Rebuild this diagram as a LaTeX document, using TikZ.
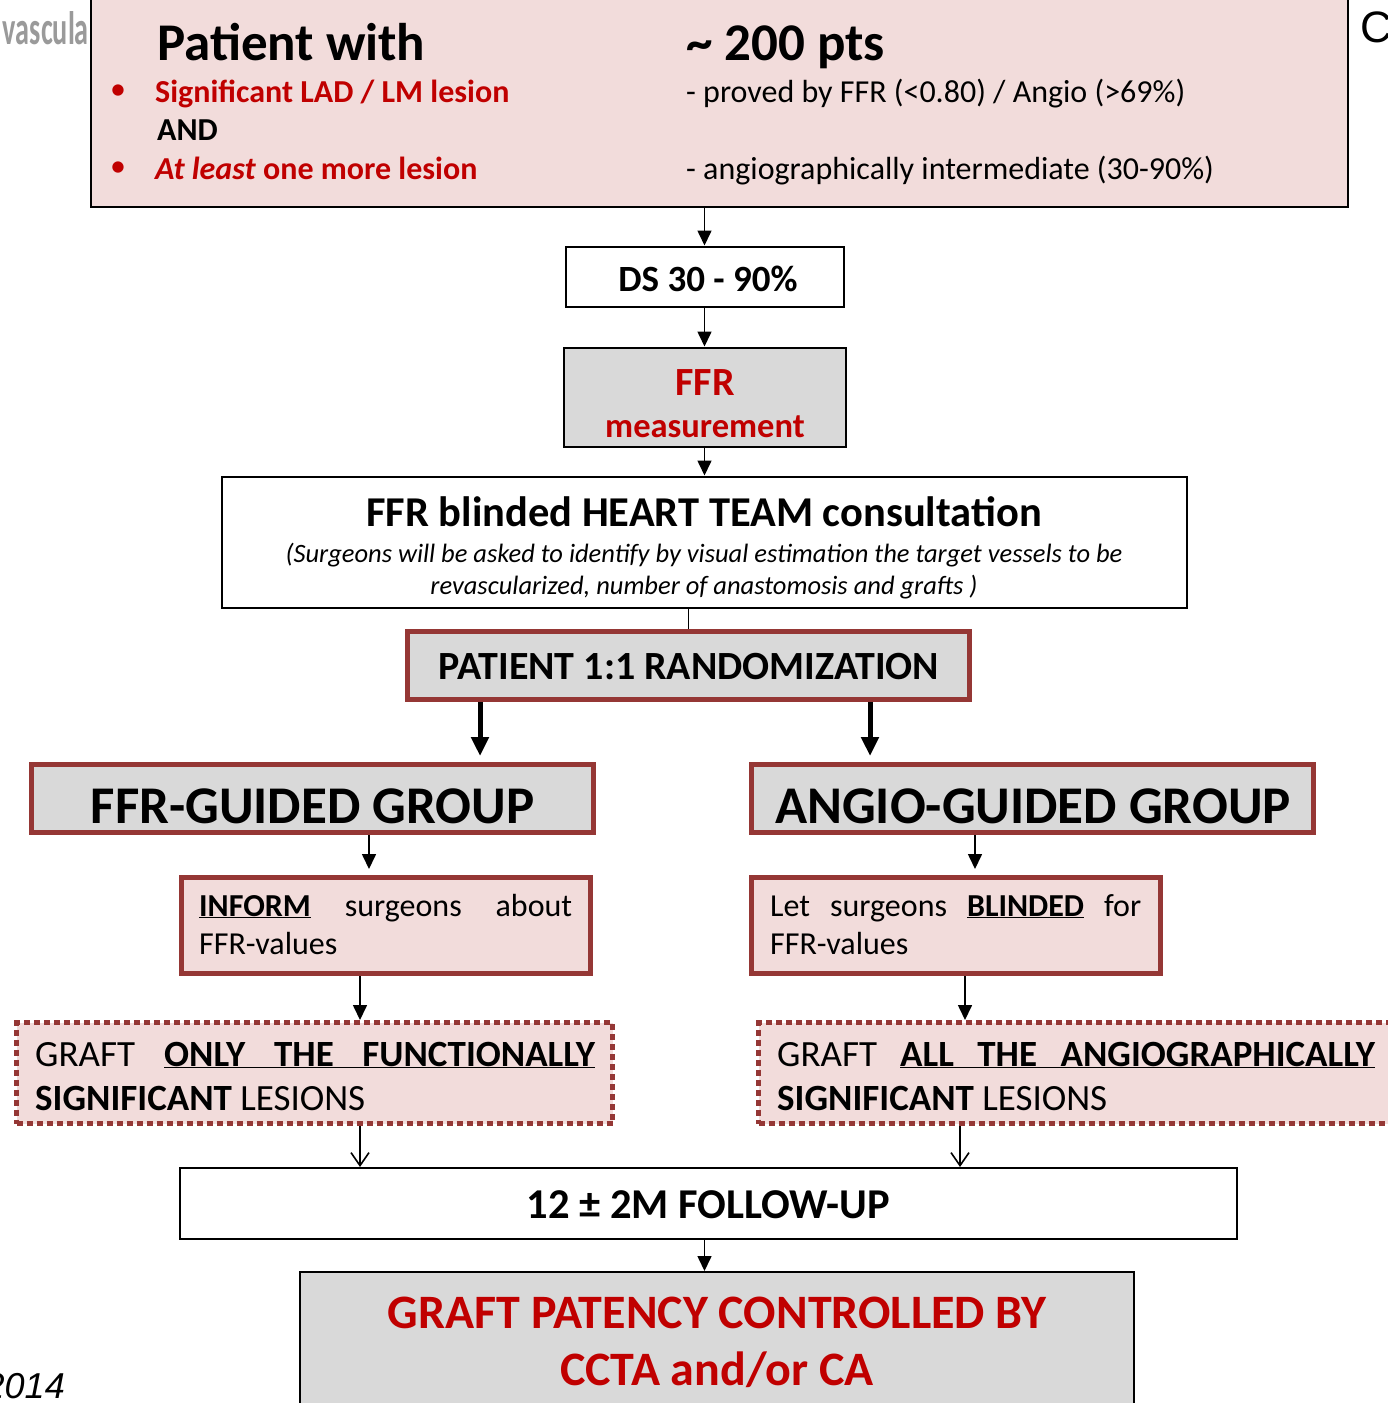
\documentclass[tikz,border=0pt]{standalone}
\usepackage{fontspec}
\setmainfont{Carlito}
\newfontfamily\arialf{Liberation Sans}
\usetikzlibrary{arrows.meta}
\definecolor{pinkf}{HTML}{F2DCDB}
\definecolor{grayf}{HTML}{D9D9D9}
\definecolor{redt}{HTML}{C00000}
\definecolor{dred}{HTML}{953735}
\definecolor{grayt}{HTML}{9A9A9A}
\newcommand\fsz[1]{\fontsize{#1}{#1}\selectfont}
\begin{document}
\begin{tikzpicture}[x=1pt,y=-1pt,
  bbox/.style={draw=black, line width=2pt, inner sep=0pt},
  rbox/.style={draw=dred, line width=5pt, inner sep=0pt},
  dbox/.style={draw=dred, line width=5pt, dash pattern=on 6pt off 4pt, inner sep=0pt, fill=pinkf},
  txt/.style={inner sep=0pt, anchor=base west},
  ctxt/.style={inner sep=0pt, anchor=base},
  arr/.style={line width=1.6pt, -{Triangle[width=14pt,length=15pt]}},
  tarr/.style={line width=5pt, -{Triangle[width=17pt,length=19pt]}},
  oarr/.style={line width=1.6pt, -{Straight Barb[length=13pt,width=18pt,line width=1.6pt]}}
]
\useasboundingbox (0,0) rectangle (1387,1403);
\fill[white] (0,0) rectangle (1387,1403);

% fragments at the edges
\node[inner sep=0pt, anchor=base east, text=grayt, xscale=0.6] (frag1) at (89,44) {\fsz{47}\bfseries vascula};
\node[inner sep=0pt, anchor=base west] (frag2) at (1360,42) {\arialf\fsz{44}C};
\node[inner sep=0pt, anchor=base east] (frag3) at (65,1398) {\arialf\itshape\fsz{36}2014};

% top box
\node[bbox, fill=pinkf, minimum width=1257pt, minimum height=217pt] (top) at (719.5,98.5) {};
\node[txt] (pw) at (157,60) {\fsz{53}\bfseries Patient with};
\node[txt] (pts) at (686,60) {\fsz{53}\bfseries \textasciitilde\ 200 pts};
\node[inner sep=0pt, text=redt] (b1) at (118,92) {\fsz{32}\textbullet};
\node[inner sep=0pt, text=redt] (b2) at (118,169) {\fsz{32}\textbullet};
\node[txt, text=redt] (sig) at (155,102) {\fsz{32}\bfseries Significant LAD / LM lesion};
\node[txt] (and) at (157,140) {\fsz{32}\bfseries AND};
\node[txt, text=redt] (atl) at (155,179) {\fsz{32}\bfseries\textit{At least} one more lesion};
\node[txt] (prov) at (686,102) {\fsz{32}- proved by FFR (<0.80) / Angio (>69\%)};
\node[txt] (ang) at (686,179) {\fsz{32}- angiographically intermediate (30-90\%)};

% DS
\node[bbox, fill=white, minimum width=278pt, minimum height=60pt] (ds) at (704.5,276.5) {};
\node[ctxt] (dst) at (708,291) {\fsz{37}\bfseries DS 30 - 90\%};
% FFR measurement
\node[bbox, fill=grayf, minimum width=282pt, minimum height=99pt] (ffr) at (704.5,397) {};
\node[ctxt, text=redt] (ffr1) at (705,395) {\fsz{40}\bfseries FFR};
\node[ctxt, text=redt] (ffr2) at (705,437) {\fsz{34.5}\bfseries measurement};
% consultation
\node[bbox, fill=white, minimum width=965pt, minimum height=131pt] (cons) at (704,542) {};
\node[ctxt] (c1) at (704,526) {\fsz{42.5}\bfseries FFR blinded HEART TEAM consultation};
\node[ctxt] (c2) at (704,562) {\fsz{26.5}\itshape (Surgeons will be asked to identify by visual estimation the target vessels to be};
\node[ctxt] (c3) at (704,594) {\fsz{26.5}\itshape revascularized, number of anastomosis and grafts )};
% randomization
\node[rbox, fill=grayf, minimum width=562pt, minimum height=68pt] (rand) at (688.5,665.5) {};
\node[ctxt] (randt) at (689,679) {\fsz{40}\bfseries PATIENT 1:1 RANDOMIZATION};
% groups
\node[rbox, fill=grayf, minimum width=562pt, minimum height=68pt] (ffrg) at (312.5,798.5) {};
\node[ctxt] (ffrgt) at (312.5,823) {\fsz{53}\bfseries FFR-GUIDED GROUP};
\node[rbox, fill=grayf, minimum width=562pt, minimum height=68pt] (angg) at (1032.5,798.5) {};
\node[ctxt] (anggt) at (1033,823) {\fsz{53}\bfseries ANGIO-GUIDED GROUP};
% inform / let
\node[rbox, fill=pinkf, minimum width=409pt, minimum height=96pt] (inf) at (386,925.5) {};
\node[txt] (inf1) at (199,916) {\fsz{32}\hbox to 373pt{\underline{\textbf{INFORM}}\hfill surgeons\hfill about}};
\node[txt] (inf2) at (199,954) {\fsz{32}FFR-values};
\node[rbox, fill=pinkf, minimum width=409pt, minimum height=96pt] (let) at (956,925.5) {};
\node[txt] (let1) at (770,916) {\fsz{32}\hbox to 371pt{Let\hfill surgeons\hfill\underline{\textbf{BLINDED}}\hfill for}};
\node[txt] (let2) at (770,954) {\fsz{32}FFR-values};
% graft boxes
\node[dbox, minimum width=596pt, minimum height=101pt] (gl) at (314.5,1073) {};
\node[txt] (gl1) at (35,1066) {\fsz{37}\hbox to 560pt{GRAFT\hfill\underline{\hbox to 431pt{\textbf{ONLY}\hfill\textbf{THE}\hfill\textbf{FUNCTIONALLY}}}}};
\node[txt] (gl2) at (35,1110) {\fsz{37}\textbf{SIGNIFICANT} LESIONS};
\node[dbox, minimum width=641pt, minimum height=101pt] (gr) at (1079,1073) {};
\node[txt] (gr1) at (777,1066) {\fsz{37}\hbox to 598pt{GRAFT\hfill\underline{\hbox to 475pt{\textbf{ALL}\hfill\textbf{THE}\hfill\textbf{ANGIOGRAPHICALLY}}}}};
\node[txt] (gr2) at (777,1110) {\fsz{37}\textbf{SIGNIFICANT} LESIONS};
% follow-up
\node[bbox, fill=white, minimum width=1057pt, minimum height=71pt] (fu) at (708.5,1203.5) {};
\node[ctxt] (fut) at (708.5,1218) {\fsz{42.5}\bfseries 12 ± 2M FOLLOW-UP};
% final
\node[bbox, fill=grayf, minimum width=834pt, minimum height=150pt] (fin) at (717,1347) {};
\node[ctxt, text=redt] (f1) at (717,1328) {\fsz{48}\bfseries GRAFT PATENCY CONTROLLED BY};
\node[ctxt, text=redt] (f2) at (717,1385) {\fsz{48}\bfseries CCTA and/or CA};

% connectors
\draw[arr] (ds.north |- top.south) -- (ds.north);
\draw[arr] (ds.south) -- (ffr.north);
\draw[arr] (ffr.south) -- (ffr.south |- cons.north);
\draw[line width=1.6pt] (rand.north |- cons.south) -- (rand.north);
\coordinate (r1) at (480,702);
\coordinate (r2) at (870,702);
\draw[tarr, shorten >=6pt] (r1) -- (r1 |- ffrg.north);
\draw[tarr, shorten >=6pt] (r2) -- (r2 |- angg.north);
\coordinate (g1) at (369,835);
\coordinate (g2) at (975,835);
\draw[arr, shorten >=6pt] (g1) -- (g1 |- inf.north);
\draw[arr, shorten >=6pt] (g2) -- (g2 |- let.north);
\coordinate (i1) at (360,976);
\coordinate (i2) at (965,976);
\draw[arr] (i1) -- (i1 |- gl.north);
\draw[arr] (i2) -- (i2 |- gr.north);
\coordinate (d1) at (360,1126);
\coordinate (d2) at (960,1126);
\draw[oarr] (d1) -- (d1 |- fu.north);
\draw[oarr] (d2) -- (d2 |- fu.north);
\draw[arr] (fu.south -| ds.south) -- (fin.north -| ds.south);
\end{tikzpicture}
\end{document}
